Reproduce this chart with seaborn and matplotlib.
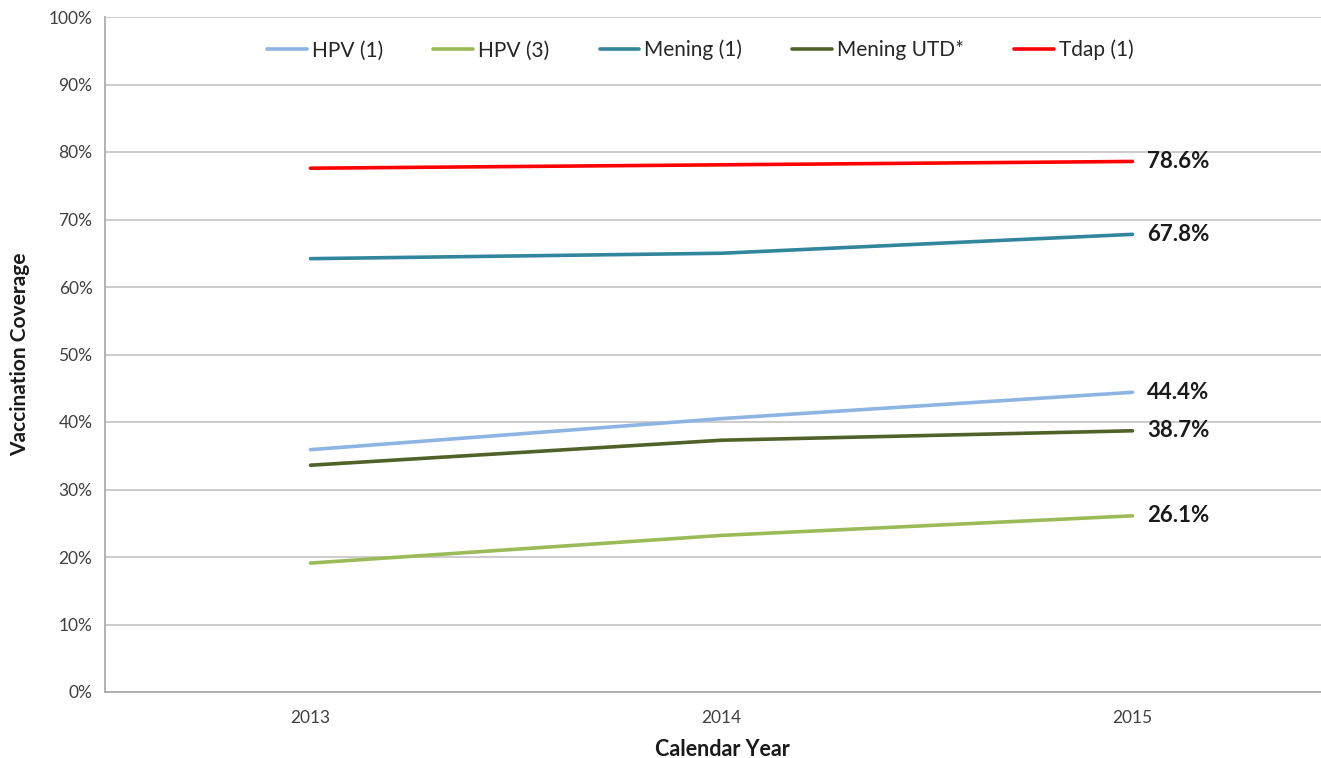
import numpy as np
import pandas as pd
import matplotlib
matplotlib.use("Agg")
import matplotlib.pyplot as plt
import seaborn as sns
from matplotlib.ticker import FixedLocator, FuncFormatter

# data
years = ["2013", "2014", "2015"]
hpv1 = [35.9, 40.5, 44.4]
hpv3 = [19.1, 23.2, 26.1]
mening1 = [64.2, 65.0, 67.8]
mening_utd = [33.6, 37.3, 38.7]
tdap1 = [77.6, 78.1, 78.6]

series_names = ["HPV (1)", "HPV (3)", "Mening (1)", "Mening UTD*", "Tdap (1)"]
series_values = [hpv1, hpv3, mening1, mening_utd, tdap1]
colors = ["#8EB4E3", "#9BBB59", "#31859C", "#4F6228", "#FF0000"]

rows = []
for name, vals in zip(series_names, series_values):
    for i, v in enumerate(vals):
        rows.append({"idx": i, "year": years[i], "vaccine": name, "coverage": v})
df = pd.DataFrame(rows)

sns.set_style("white")
plt.rcParams["font.family"] = ["Lato", "DejaVu Sans"]

fig = plt.figure(figsize=(13.21, 7.58), dpi=100)
ax = fig.add_axes([105 / 1321, 1 - 692 / 758, (1338 - 105) / 1321, (692 - 17) / 758])

sns.lineplot(data=df, x="idx", y="coverage", hue="vaccine", hue_order=series_names,
             palette=colors, linewidth=2.6, ax=ax, legend=True)

ax.set_xlim(-0.5, 2.5)
ax.set_ylim(0, 100)

# category axis: labels at centers, ticks at boundaries
ax.xaxis.set_major_locator(FixedLocator([-0.5, 0.5, 1.5, 2.5]))
ax.xaxis.set_major_formatter(FuncFormatter(lambda v, p: ""))
ax.xaxis.set_minor_locator(FixedLocator([0, 1, 2]))
ax.set_xticklabels(years, minor=True)
ax.tick_params(axis="x", which="major", length=5, color="#A6A6A6", direction="out")
ax.tick_params(axis="x", which="minor", length=0, pad=13, labelsize=12.5, labelcolor="#404040")

ax.set_yticks(np.arange(0, 101, 10))
ax.yaxis.set_major_formatter(FuncFormatter(lambda v, p: f"{int(v)}%"))
ax.tick_params(axis="y", length=5, color="#A6A6A6", direction="out", labelsize=12.5,
               labelcolor="#404040", pad=4)

ax.grid(axis="y", color="#C4C4C4", linewidth=1.2)
ax.grid(axis="x", visible=False)
ax.set_axisbelow(True)
for side in ["top", "right"]:
    ax.spines[side].set_visible(False)
for side in ["left", "bottom"]:
    ax.spines[side].set_color("#A6A6A6")
    ax.spines[side].set_linewidth(1.2)

# end labels
for name, vals in zip(series_names, series_values):
    ax.text(2 + 0.035, vals[-1], f"{vals[-1]:.1f}%", fontsize=16, fontweight="bold",
            color="#1A1A1A", va="center", ha="left")

ax.set_xlabel("Calendar Year", fontsize=15.5, fontweight="bold", color="#1A1A1A")
ax.set_ylabel("Vaccination Coverage", fontsize=15, fontweight="bold", color="#1A1A1A")
ax.xaxis.set_label_coords((722 - 105) / (1338 - 105), -0.07)
ax.yaxis.set_label_coords(-0.061, 0.5)

handles, labels = ax.get_legend_handles_labels()
ax.legend(handles, labels, ncol=5, loc="center", bbox_to_anchor=(0.483, 0.951),
          frameon=False, fontsize=15, handlelength=1.9, handletextpad=0.25,
          columnspacing=2.4)

fig.savefig("out.png", dpi=100)
